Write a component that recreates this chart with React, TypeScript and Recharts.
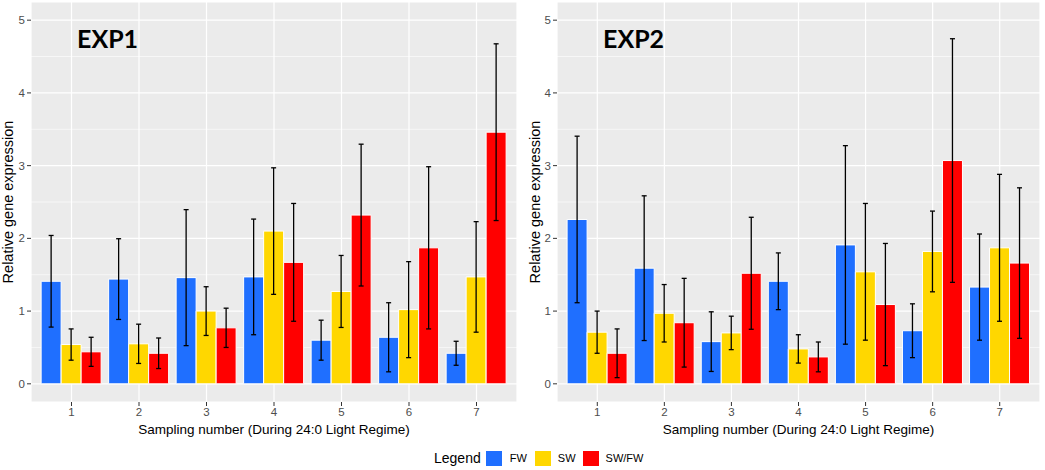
import React from 'react';
import { BarChart, Bar, XAxis, YAxis, CartesianGrid, ErrorBar } from 'recharts';

const categories = ['1', '2', '3', '4', '5', '6', '7'];

const exp1Fw = [1.41, 1.44, 1.46, 1.47, 0.6, 0.64, 0.42];
const exp1Sw = [0.54, 0.55, 1.0, 2.1, 1.27, 1.02, 1.47];
const exp1SwFw = [0.44, 0.42, 0.77, 1.67, 2.32, 1.87, 3.46];
const exp1FwErr = [0.63, 0.555, 0.935, 0.795, 0.275, 0.475, 0.165];
const exp1SwErr = [0.215, 0.27, 0.335, 0.87, 0.495, 0.66, 0.76];
const exp1SwFwErr = [0.2, 0.21, 0.27, 0.81, 0.975, 1.115, 1.215];

const exp2Fw = [2.26, 1.59, 0.58, 1.41, 1.91, 0.73, 1.33];
const exp2Sw = [0.71, 0.97, 0.7, 0.48, 1.54, 1.82, 1.87];
const exp2SwFw = [0.42, 0.84, 1.52, 0.37, 1.09, 3.07, 1.66];
const exp2FwErr = [1.145, 0.995, 0.41, 0.39, 1.365, 0.37, 0.73];
const exp2SwErr = [0.29, 0.395, 0.23, 0.195, 0.94, 0.555, 1.01];
const exp2SwFwErr = [0.335, 0.61, 0.77, 0.205, 0.84, 1.675, 1.035];

const yTicks = [0, 1, 2, 3, 4, 5];
const yMinor = [0.5, 1.5, 2.5, 3.5, 4.5];

const FW = '#1F6FFF';
const SW = '#FFD700';
const SWFW = '#FF0000';

const build = (fw: number[], sw: number[], swfw: number[], fwE: number[], swE: number[], swfwE: number[]) =>
  categories.map((c, i) => ({
    cat: c,
    fw: fw[i],
    sw: sw[i],
    swfw: swfw[i],
    fwErr: fwE[i],
    swErr: swE[i],
    swfwErr: swfwE[i],
  }));

const exp1 = build(exp1Fw, exp1Sw, exp1SwFw, exp1FwErr, exp1SwErr, exp1SwFwErr);
const exp2 = build(exp2Fw, exp2Sw, exp2SwFw, exp2FwErr, exp2SwErr, exp2SwFwErr);

const tickStyle = { fontSize: 11.5, fill: '#4D4D4D' };

const Panel = ({ data, width, yWidth, right, labelOffset }: any) => (
  <BarChart
    width={width}
    height={438}
    data={data}
    margin={{ top: 2, right, bottom: 0, left: 0 }}
    barCategoryGap="5%"
    barGap={0}
  >
    <CartesianGrid fill="#EBEBEB" stroke="#FFFFFF" strokeWidth={1.2} />
    <CartesianGrid stroke="#FFFFFF" strokeWidth={0.6} vertical={false} horizontalValues={yMinor} />
    <XAxis
      dataKey="cat"
      axisLine={false}
      tickLine={{ stroke: '#333333' }}
      tickSize={4}
      tick={tickStyle}
      padding={{ left: 6.75, right: 6.75 }}
      height={36}
      label={{ value: 'Sampling number (During 24:0 Light Regime)', position: 'insideBottom', offset: 4, fontSize: 13.5, fill: '#000' }}
    />
    <YAxis
      domain={[-0.25, 5.25]}
      ticks={yTicks}
      axisLine={false}
      tickLine={{ stroke: '#333333' }}
      tickSize={4}
      tick={tickStyle}
      width={yWidth}
      label={{ value: 'Relative gene expression', angle: -90, position: 'insideLeft', offset: labelOffset, fontSize: 14.5, fill: '#000', style: { textAnchor: 'middle' } }}
    />
    <Bar dataKey="fw" fill={FW} stroke="#FFFFFF" strokeWidth={1} isAnimationActive={false}>
      <ErrorBar dataKey="fwErr" width={2.5} stroke="#000" strokeWidth={1.3} />
    </Bar>
    <Bar dataKey="sw" fill={SW} stroke="#FFFFFF" strokeWidth={1} isAnimationActive={false}>
      <ErrorBar dataKey="swErr" width={2.5} stroke="#000" strokeWidth={1.3} />
    </Bar>
    <Bar dataKey="swfw" fill={SWFW} stroke="#FFFFFF" strokeWidth={1} isAnimationActive={false}>
      <ErrorBar dataKey="swfwErr" width={2.5} stroke="#000" strokeWidth={1.3} />
    </Bar>
  </BarChart>
);

const titleStyle: React.CSSProperties = {
  position: 'absolute',
  top: 21,
  fontFamily: 'Lato, "Open Sans", sans-serif',
  fontWeight: 700,
  fontSize: 25,
  lineHeight: '34px',
  color: '#000',
};

const swatch = (c: string): React.CSSProperties => ({ width: 16, height: 15, background: c, display: 'inline-block' });

export default function App() {
  return (
    <div style={{ position: 'absolute', left: 0, top: 0, width: 1045, height: 470, background: '#fff', fontFamily: '"Liberation Sans", Arial, sans-serif' }}>
      <div style={{ position: 'absolute', left: 0, top: 0 }}>
        <Panel data={exp1} width={520} yWidth={31} right={3} labelOffset={8} />
      </div>
      <div style={{ position: 'absolute', left: 520, top: 0 }}>
        <Panel data={exp2} width={525} yWidth={37} right={5} labelOffset={15} />
      </div>
      <div style={{ ...titleStyle, left: 77 }}>EXP1</div>
      <div style={{ ...titleStyle, left: 603 }}>EXP2</div>
      <div style={{ position: 'absolute', left: 434, top: 450, display: 'flex', alignItems: 'center', fontSize: 11, color: '#000' }}>
        <span style={{ fontSize: 14, marginRight: 5 }}>Legend</span>
        <span style={swatch(FW)} />
        <span style={{ marginLeft: 8, marginRight: 8 }}>FW</span>
        <span style={swatch(SW)} />
        <span style={{ marginLeft: 7, marginRight: 7 }}>SW</span>
        <span style={swatch(SWFW)} />
        <span style={{ marginLeft: 7 }}>SW/FW</span>
      </div>
    </div>
  );
}
